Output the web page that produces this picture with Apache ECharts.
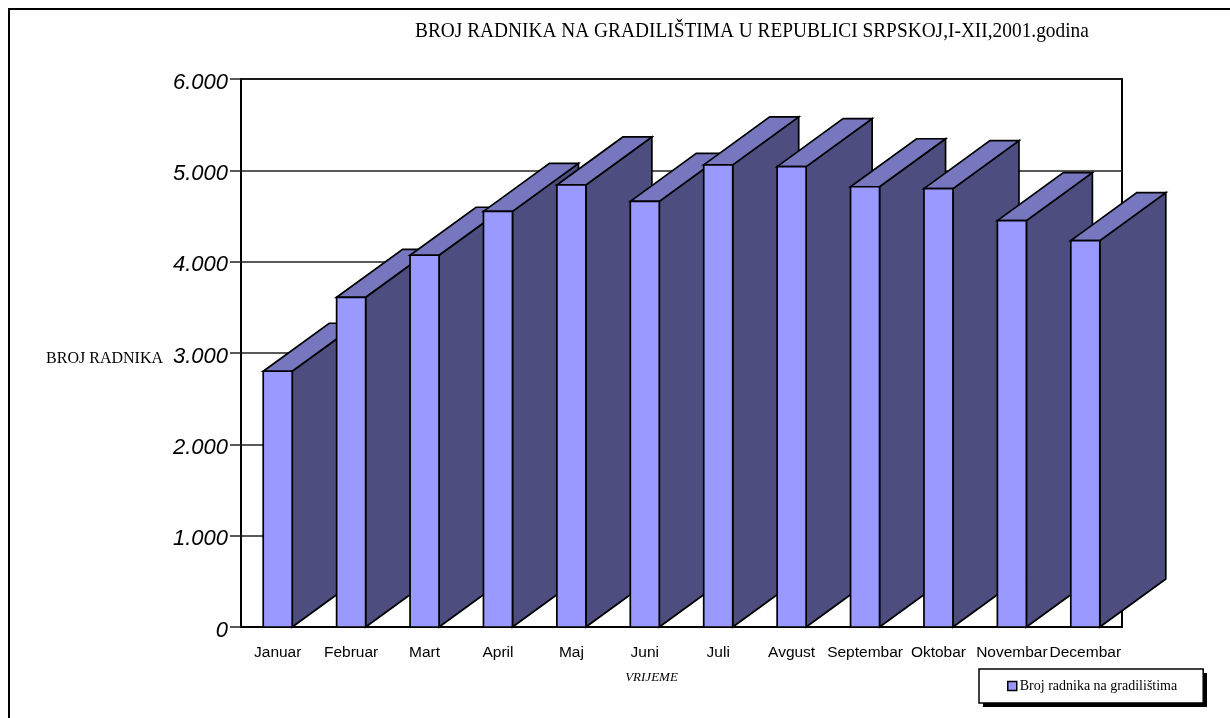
<!DOCTYPE html>
<html>
<head>
<meta charset="utf-8">
<style>html,body{margin:0;padding:0;background:#fff}#c{width:1230px;height:718px}</style>
<script src="https://cdn.jsdelivr.net/npm/echarts@6/dist/echarts.min.js"></script>
</head>
<body>
<div id="c"></div>
<script>
const titleText = 'BROJ RADNIKA NA GRADILIŠTIMA U REPUBLICI SRPSKOJ,I-XII,2001.godina';
const seriesName = 'Broj radnika na gradilištima';
const categories = ['Januar','Februar','Mart','April','Maj','Juni','Juli','Avgust','Septembar','Oktobar','Novembar','Decembar'];
const workers = [2800,3610,4070,4550,4840,4660,5060,5040,4820,4800,4450,4230];
const yTicks = {min:0,max:6000,step:1000};

const DEPTH_X = 66, DEPTH_Y = 48, BAR_FRACTION = 0.395;
const FRONT='#9999FF', TOP='#7777BF', SIDE='#4D4D80', INK='#000';

const chart = echarts.init(document.getElementById('c'), null, {renderer:'canvas'});
function renderItem(params, api){
  const i = api.value(0), v = api.value(1);
  const top = api.coord([i, v]), base = api.coord([i, 0]);
  const w = api.size([1,0])[0] * BAR_FRACTION;
  const l = top[0]-w/2, r = top[0]+w/2, yT = top[1], yB = base[1];
  const st = c => ({fill:c, stroke:INK, lineWidth:1.7, lineJoin:'miter'});
  return {type:'group', children:[
    {type:'polygon', shape:{points:[[r,yT],[r+DEPTH_X,yT-DEPTH_Y],[r+DEPTH_X,yB-DEPTH_Y],[r,yB]]}, style:st(SIDE)},
    {type:'polygon', shape:{points:[[l,yT],[l+DEPTH_X,yT-DEPTH_Y],[r+DEPTH_X,yT-DEPTH_Y],[r,yT]]}, style:st(TOP)},
    {type:'rect', shape:{x:l,y:yT,width:w,height:yB-yT}, style:st(FRONT)}
  ]};
}
chart.setOption({
  animation:false,
  backgroundColor:'#fff',
  grid:{left:241,top:79,right:108,bottom:91,show:true,borderColor:'#000',borderWidth:2,backgroundColor:'#fff'},
  legend:{show:true,left:979,top:669,orient:'horizontal',padding:[10,26,10,28],itemWidth:9,itemHeight:9,itemGap:0,
    backgroundColor:'#fff',borderColor:'#000',borderWidth:1.5,borderRadius:0,
    textStyle:{fontFamily:'Liberation Serif',fontSize:14,color:'#000',padding:[0,0,0,-2]},
    data:[{name:seriesName,icon:'rect',itemStyle:{color:FRONT,borderColor:INK,borderWidth:1.5}}]},
  xAxis:{type:'category',data:categories,
    axisLine:{show:true,lineStyle:{color:'#000',width:2}},axisTick:{show:false},
    axisLabel:{interval:0,margin:18,fontFamily:'Liberation Sans',fontSize:15.5,color:'#000'},
    name:'VRIJEME',nameLocation:'middle',nameGap:44,
    nameTextStyle:{fontFamily:'Liberation Serif',fontStyle:'italic',fontSize:13,color:'#000',padding:[0,60,0,0]}},
  yAxis:{type:'value',min:yTicks.min,max:yTicks.max,interval:yTicks.step,
    axisLine:{show:true,lineStyle:{color:'#000',width:2}},
    axisTick:{show:true,length:11,lineStyle:{color:'#222',width:1.5}},
    splitLine:{show:true,lineStyle:{color:'#222',width:1.5}},
    axisLabel:{margin:13,
      formatter:v=>'{t|'+(v===0?'0':String(v).replace(/(\d)(\d{3})$/,'$1.$2'))+'}',
      rich:{t:{padding:[7,0,0,0],fontFamily:'Liberation Sans',fontStyle:'italic',fontSize:22,color:'#000'}}},
    name:'{n|BROJ RADNIKA}',nameLocation:'middle',nameRotate:0,nameGap:78,
    nameTextStyle:{rich:{n:{padding:[12,0,0,0],fontFamily:'Liberation Serif',fontSize:16,color:'#000'}}}},
  graphic:[
    {type:'polyline',silent:true,shape:{points:[[9,718],[9,9],[1230,9]]},style:{fill:'none',stroke:'#000',lineWidth:2}},
    {type:'rect',silent:true,z:1,shape:{x:983,y:673,width:224,height:34},style:{fill:'#000'}},
    {type:'text',silent:true,x:415,y:31,scaleX:0.88,style:{text:titleText,fontFamily:'Liberation Serif',fontSize:22,fill:'#000',verticalAlign:'middle',align:'left'}}
  ],
  series:[{type:'custom',name:seriesName,renderItem,encode:{x:0,y:1},
    itemStyle:{color:FRONT},
    data:workers.map((v,i)=>[i,v])}]
});
</script>
</body>
</html>
